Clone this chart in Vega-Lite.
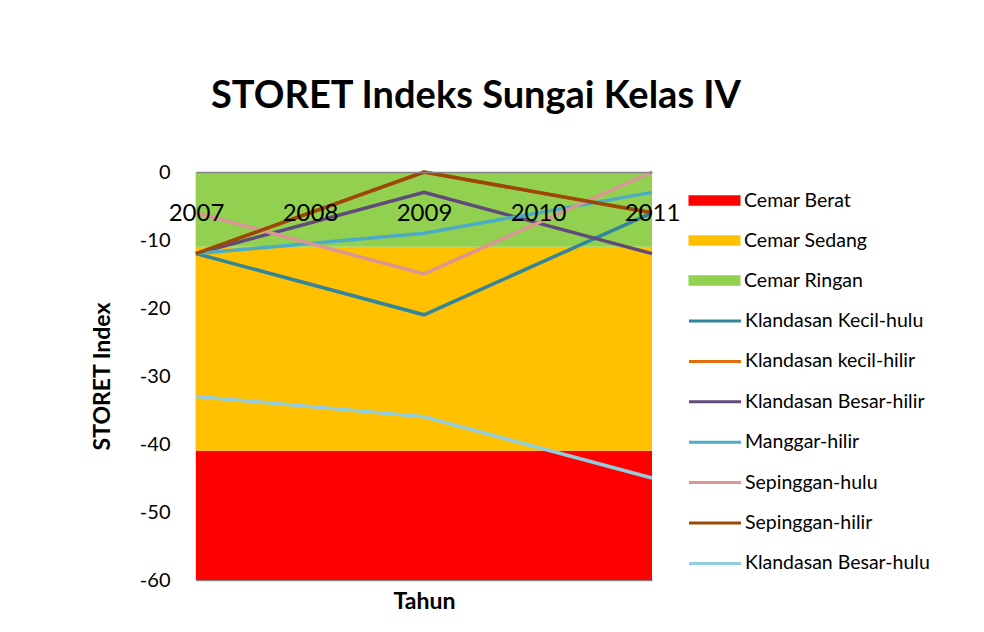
{
  "$schema": "https://vega.github.io/schema/vega-lite/v6.json",
  "width": 456,
  "height": 408,
  "autosize": {"type": "none"},
  "padding": {"left": 196, "top": 172, "right": 332, "bottom": 52},
  "background": "white",
  "config": {"font": "Lato", "view": {"stroke": null}},
  "title": {"text": "STORET Indeks Sungai Kelas IV", "fontSize": 38, "fontWeight": "bold", "color": "black", "anchor": "middle", "frame": "group", "offset": 46, "dx": 52},
  "datasets": {
    "bands": [
      {"band": "Cemar Berat", "x1": 2007, "x2": 2011, "lo": -60, "hi": -41},
      {"band": "Cemar Sedang", "x1": 2007, "x2": 2011, "lo": -41, "hi": -11},
      {"band": "Cemar Ringan", "x1": 2007, "x2": 2011, "lo": -11, "hi": 0}
    ],
    "lines": [
      {"series": "Klandasan Kecil-hulu", "tahun": 2007, "index": -12},
      {"series": "Klandasan Kecil-hulu", "tahun": 2009, "index": -21},
      {"series": "Klandasan Kecil-hulu", "tahun": 2011, "index": -6},
      {"series": "Klandasan kecil-hilir", "tahun": 2007, "index": -12},
      {"series": "Klandasan kecil-hilir", "tahun": 2009, "index": 0},
      {"series": "Klandasan kecil-hilir", "tahun": 2011, "index": -6},
      {"series": "Klandasan Besar-hilir", "tahun": 2007, "index": -12},
      {"series": "Klandasan Besar-hilir", "tahun": 2009, "index": -3},
      {"series": "Klandasan Besar-hilir", "tahun": 2011, "index": -12},
      {"series": "Manggar-hilir", "tahun": 2007, "index": -12},
      {"series": "Manggar-hilir", "tahun": 2009, "index": -9},
      {"series": "Manggar-hilir", "tahun": 2011, "index": -3},
      {"series": "Sepinggan-hulu", "tahun": 2007, "index": -6},
      {"series": "Sepinggan-hulu", "tahun": 2009, "index": -15},
      {"series": "Sepinggan-hulu", "tahun": 2011, "index": 0},
      {"series": "Sepinggan-hilir", "tahun": 2007, "index": -12},
      {"series": "Sepinggan-hilir", "tahun": 2009, "index": 0},
      {"series": "Sepinggan-hilir", "tahun": 2011, "index": -6},
      {"series": "Klandasan Besar-hulu", "tahun": 2007, "index": -33},
      {"series": "Klandasan Besar-hulu", "tahun": 2009, "index": -36},
      {"series": "Klandasan Besar-hulu", "tahun": 2011, "index": -45}
    ]
  },
  "layer": [
    {
      "data": {"name": "bands"},
      "mark": {"type": "rect"},
      "encoding": {
        "x": {"field": "x1", "type": "quantitative", "scale": {"domain": [2007, 2011], "nice": false, "zero": false},
          "axis": {"orient": "bottom", "labels": false, "ticks": false, "grid": false, "title": "Tahun", "titleFontSize": 23, "titleFontWeight": "bold", "titleColor": "black", "titlePadding": 10, "domainColor": "#868686", "domainWidth": 1.5}},
        "x2": {"field": "x2"},
        "y": {"field": "lo", "type": "quantitative", "scale": {"domain": [-60, 0], "nice": false, "zero": false},
          "axis": {"title": "STORET Index", "titleFontSize": 23, "titleFontWeight": "bold", "titleColor": "black", "titlePadding": 25, "labelFontSize": 20, "labelColor": "black", "labelPadding": 26, "labelExpr": "replace(datum.label, '\u2212', '-')", "ticks": false, "grid": false, "domainColor": "#868686", "domainWidth": 1.5, "values": [0, -10, -20, -30, -40, -50, -60]}},
        "y2": {"field": "hi"},
        "fill": {"field": "band", "type": "nominal",
          "scale": {"domain": ["Cemar Berat", "Cemar Sedang", "Cemar Ringan"], "range": ["#FF0000", "#FFC000", "#92D050"]},
          "legend": {"title": null, "orient": "none", "legendX": 491, "legendY": 17, "symbolType": "M-2.5,-0.5H2.5V0.5H-2.5Z", "symbolSize": 433, "symbolOffset": 16, "labelFontSize": 19.5, "labelColor": "black", "labelOffset": 18, "labelLimit": 0, "rowPadding": 19, "padding": 0}}
      }
    },
    {
      "data": {"name": "lines"},
      "mark": {"type": "line", "strokeWidth": 3.5},
      "encoding": {
        "x": {"field": "tahun", "type": "quantitative",
          "axis": {"orient": "top", "zindex": 2, "title": null, "values": [2007, 2008, 2009, 2010, 2011], "format": "d", "labelFontSize": 24, "labelColor": "black", "labelFlush": false, "labelOverlap": false, "labelBound": false, "labelBaseline": "middle", "labelPadding": -41, "ticks": false, "grid": false, "domainColor": "#868686", "domainWidth": 1.5}},
        "y": {"field": "index", "type": "quantitative"},
        "stroke": {"field": "series", "type": "nominal",
          "scale": {"domain": ["Klandasan Kecil-hulu", "Klandasan kecil-hilir", "Klandasan Besar-hilir", "Manggar-hilir", "Sepinggan-hulu", "Sepinggan-hilir", "Klandasan Besar-hulu"],
            "range": ["#31859C", "#E46C0A", "#604A7B", "#4BACC6", "#D99694", "#984807", "#93CDDD"]},
          "legend": {"title": null, "orient": "none", "legendX": 491, "legendY": 137, "symbolType": "M-2.5,0H2.5", "symbolSize": 433, "symbolStrokeWidth": 3, "symbolOffset": 16, "labelFontSize": 19.5, "labelColor": "black", "labelOffset": 18, "labelLimit": 0, "rowPadding": 18.4, "padding": 0}}
      }
    }
  ],
  "resolve": {"axis": {"x": "independent"}}
}
